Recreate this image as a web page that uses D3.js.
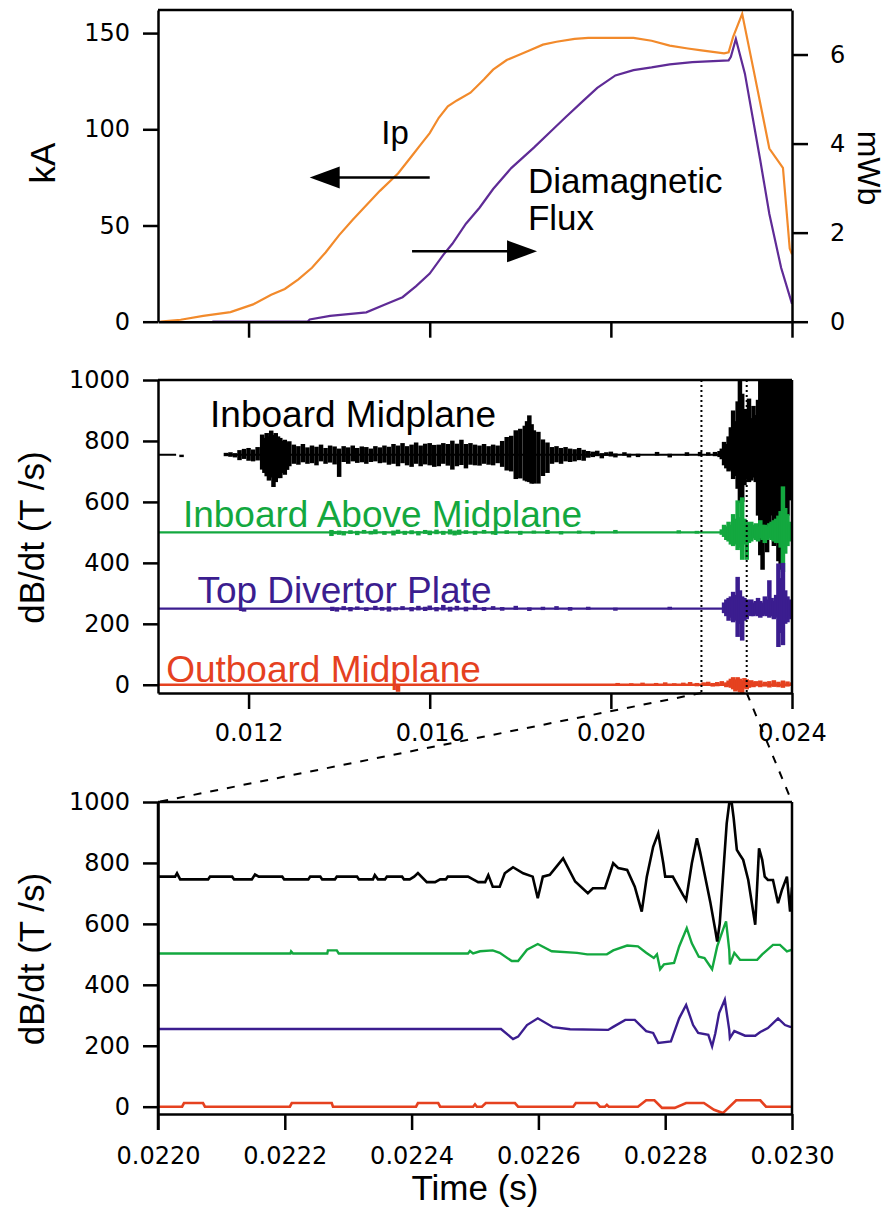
<!DOCTYPE html>
<html><head><meta charset="utf-8">
<script src="https://cdn.jsdelivr.net/npm/d3@7"></script>
<style>
body{margin:0;background:#fff;}
svg{display:block;font-family:"Liberation Sans",Arial,Helvetica,sans-serif;}
</style></head><body>
<svg id="c" width="888" height="1209"></svg>
<script>
// ---------- TOP PANEL DATA ----------
const ipTime = [0.01005,0.0105,0.0110,0.0116,0.0121,0.0125,0.0128,0.0131,0.0134,0.0137,0.0140,0.0143,0.0146,0.0149,0.0153,0.0156,0.0158,0.0160,0.0162,0.0164,0.0166,0.0169,0.0172,0.0174,0.0177,0.0179,0.0182,0.0185,0.0188,0.0192,0.0195,0.0200,0.0205,0.0209,0.0213,0.0217,0.0220,0.0225,0.0226,0.0227,0.0229,0.02315,0.0235,0.0238,0.02395,0.0240];
const ipKA   = [0,1,3,5,9,14,17,22,28,36,45,53,60.5,68,77,86,92,98,106,112,115,119,126,131,136,138,141,144,145.5,147,147.5,147.5,147.5,146,143.5,142,141,139.5,140,148,160,131,90,80,38,35];
const fluxTime = [0.0112,0.0133,0.01335,0.0138,0.0142,0.0146,0.0150,0.0154,0.0157,0.0160,0.0163,0.0165,0.0168,0.0171,0.0174,0.0178,0.0183,0.0187,0.0190,0.0194,0.0197,0.0201,0.0205,0.0209,0.0213,0.0218,0.0226,0.02265,0.02276,0.02296,0.0233,0.0235,0.02376,0.0240];
const fluxMWb  = [0,0,0.05,0.13,0.17,0.21,0.38,0.55,0.8,1.08,1.5,1.75,2.2,2.56,2.98,3.45,3.91,4.3,4.59,4.97,5.25,5.53,5.65,5.71,5.78,5.83,5.87,5.95,6.35,5.57,3.62,2.42,1.21,0.40];
const topXTicks = [0.012,0.016,0.020,0.024];
const kATicks = [0,50,100,150];
const mWbTicks = [0,2,4,6];

// ---------- MIDDLE PANEL DATA (envelopes: [time, up, down] relative to trace offset) ----------
const midTicks = [0,200,400,600,800,1000];
const midXTicks = [0.012,0.016,0.020,0.024];
const inboardOffset = 755, aboveOffset = 500, divertorOffset = 250, outboardOffset = 0;
const inboardSpans = [[0.0100,0.01040],[0.0115,0.0240]];
const fullSpan = [[0.0100,0.0240]];
const inboardNoise = [[0.01052,0,8],
[0.01150,6,5],[0.01160,8,7],[0.01170,5,9],[0.01180,15,18],[0.01190,19,14],[0.01200,22,20],[0.01210,17,22],[0.01220,25,19],[0.01230,66,49],[0.01235,55,60],[0.01240,71,71],[0.01245,60,85],[0.01250,79,75],[0.01255,65,106],[0.01260,71,90],[0.01265,60,77],[0.01270,55,77],[0.01275,45,60],[0.01280,49,66],[0.01285,40,50],[0.01290,44,38],[0.01300,33,30],[0.01310,28,33],[0.01320,35,25],[0.01330,24,30],[0.01340,30,28],[0.01350,26,35],[0.01360,33,22],[0.01370,22,30],[0.01380,30,26],[0.01390,27,32],[0.01400,20,73],[0.01410,28,24],[0.01420,24,30],[0.01430,30,22],[0.01440,22,27],[0.01450,27,25],[0.01460,25,30],[0.01470,20,24],[0.01480,28,22],[0.01490,24,28],[0.01500,30,26],[0.01510,26,33],[0.01520,35,30],[0.01530,30,38],[0.01540,38,28],[0.01550,28,35],[0.01560,33,40],[0.01570,40,30],[0.01580,30,38],[0.01590,36,32],[0.01600,38,35],[0.01610,32,40],[0.01620,33,38],[0.01630,38,30],[0.01640,35,36],[0.01650,46,49],[0.01660,36,38],[0.01670,49,34],[0.01680,35,45],[0.01690,38,33],[0.01700,33,35],[0.01710,30,36],[0.01720,35,30],[0.01730,28,33],[0.01740,33,35],[0.01750,30,28],[0.01760,45,40],[0.01770,58,52],[0.01780,62,55],[0.01790,80,80],[0.01800,85,78],[0.01810,95,85],[0.01815,110,88],[0.01820,129,90],[0.01825,100,95],[0.01830,80,95],[0.01840,75,95],[0.01850,50,70],[0.01860,40,60],[0.01870,25,30],[0.01880,28,25],[0.01890,22,30],[0.01900,25,22],[0.01910,20,24],[0.01920,18,22],[0.01930,22,18],[0.01940,16,20],[0.01950,12,10],[0.01960,10,8],[0.01970,13,5],[0.01980,5,12],[0.01990,8,4],[0.02000,10,6],[0.02010,4,9],[0.02030,8,3],[0.02040,3,9],[0.02060,3,8],[0.02102,9,3],[0.02130,3,9],[0.02168,8,4],[0.02197,9,5],[0.02215,8,3],[0.02230,9,5],[0.02240,12,8],
[0.02245,20,15],[0.02250,42,35],[0.02255,35,45],[0.02260,60,55],[0.02265,90,50],[0.02270,145,80],[0.02275,110,70],[0.02280,175,112],[0.02285,245,158],[0.02290,200,155],[0.02295,150,100],[0.02300,150,82],[0.02305,184,90],[0.02310,120,85],[0.02315,160,75],[0.02320,130,90],[0.02325,180,200],[0.02330,245,330],[0.02335,245,378],[0.02340,245,260],[0.02345,245,320],[0.02350,245,250],[0.02355,245,200],[0.02360,245,300],[0.02365,245,237],[0.02370,245,350],[0.02375,245,378],[0.02380,245,300],[0.02385,245,280],[0.02390,245,200],[0.02395,245,150],[0.02400,245,100]];
const aboveNoise = [[0.01383,8,12],[0.01390,4,6],[0.01400,6,8],[0.01410,4,10],[0.01425,7,5],[0.01440,5,9],[0.01455,8,4],[0.01470,5,7],[0.01480,10,6],[0.01500,4,8],[0.01520,6,10],[0.01530,9,5],[0.01545,5,8],[0.01560,7,6],[0.01575,4,10],[0.01590,8,5],[0.01600,6,9],[0.01615,9,6],[0.01630,5,8],[0.01645,10,7],[0.01655,6,10],[0.01665,9,8],[0.01680,7,5],[0.01700,5,8],[0.01720,8,4],[0.01740,4,7],[0.01770,7,5],[0.01800,5,8],[0.01830,6,4],[0.01860,8,5],[0.01890,4,7],[0.01930,6,4],[0.01960,5,6],[0.02010,8,3],[0.02150,7,3],[0.02190,5,4],
[0.02245,10,8],[0.02250,25,15],[0.02255,20,25],[0.02260,35,30],[0.02265,25,40],[0.02270,60,45],[0.02275,45,40],[0.02280,105,58],[0.02285,50,50],[0.02290,115,90],[0.02295,45,40],[0.02300,35,90],[0.02305,30,35],[0.02310,35,30],[0.02315,25,20],[0.02320,30,25],[0.02325,20,30],[0.02330,40,20],[0.02335,25,25],[0.02340,25,35],[0.02345,20,25],[0.02350,30,20],[0.02355,35,25],[0.02360,40,30],[0.02365,45,35],[0.02370,55,35],[0.02375,70,50],[0.02380,151,130],[0.02385,80,70],[0.02390,60,45],[0.02395,35,30],[0.02400,25,20]];
const divertorNoise = [[0.01190,2,10],[0.01385,6,8],[0.01395,4,10],[0.01410,8,5],[0.01425,5,9],[0.01440,7,4],[0.01460,4,8],[0.01480,9,5],[0.01495,5,7],[0.01510,7,10],[0.01525,4,6],[0.01540,8,5],[0.01560,5,9],[0.01575,9,6],[0.01590,6,8],[0.01600,10,5],[0.01615,5,9],[0.01630,12,6],[0.01645,6,10],[0.01660,9,6],[0.01680,6,9],[0.01700,12,5],[0.01720,5,8],[0.01740,8,4],[0.01760,5,7],[0.01790,9,4],[0.01820,4,8],[0.01850,6,5],[0.01880,8,4],[0.01910,5,7],[0.01950,6,4],[0.02010,3,7],[0.02130,6,3],
[0.02250,20,15],[0.02255,30,25],[0.02260,35,40],[0.02265,40,30],[0.02270,55,45],[0.02275,45,40],[0.02280,104,93],[0.02285,60,50],[0.02290,40,105],[0.02295,35,40],[0.02300,30,35],[0.02305,25,20],[0.02310,30,25],[0.02315,20,25],[0.02320,25,20],[0.02325,35,25],[0.02330,25,30],[0.02335,20,25],[0.02340,40,20],[0.02345,30,25],[0.02350,93,30],[0.02355,35,25],[0.02360,25,35],[0.02365,45,30],[0.02370,148,126],[0.02375,100,80],[0.02380,150,120],[0.02385,60,50],[0.02390,40,45],[0.02395,30,35],[0.02400,25,25]];
const outboardNoise = [[0.01530,2,23],[0.02015,6,2],[0.02045,5,3],[0.02070,7,2],[0.02100,6,3],[0.02120,8,2],[0.02140,5,4],[0.02160,7,3],[0.02175,9,2],[0.02190,6,5],[0.02205,8,3],[0.02215,10,4],[0.02225,6,6],[0.02235,9,5],[0.02245,12,4],[0.02255,8,8],[0.02260,14,6],[0.02265,20,10],[0.02270,25,15],[0.02275,18,22],[0.02280,25,18],[0.02285,20,25],[0.02290,15,27],[0.02295,22,12],[0.02300,18,15],[0.02305,12,10],[0.02310,15,6],[0.02315,10,8],[0.02320,12,5],[0.02330,14,8],[0.02340,10,6],[0.02350,12,9],[0.02360,15,7],[0.02370,10,8],[0.02380,14,10],[0.02390,11,6],[0.02400,8,4]];
const seriesNames = ["Inboard Midplane","Inboard Above Midplane","Top Divertor Plate","Outboard Midplane"];
const labelAnchors = [[0.01115,846],[0.01055,518],[0.01087,268],[0.01018,10]]; // [time, value] text start/baseline
const zoomWindow = [0.022,0.023];

// ---------- BOTTOM PANEL DATA ([time, dB/dt]) ----------
const zoomXTicks = [0.0220,0.0222,0.0224,0.0226,0.0228,0.0230];
const zoomInboard = [[0.022000,755],[0.022027,755],[0.022030,766],[0.022035,746],[0.022079,746],[0.022082,755],[0.022117,755],[0.022120,746],[0.022148,746],[0.022153,762],[0.022159,755],[0.022196,755],[0.022199,746],[0.022237,746],[0.022240,755],[0.022256,755],[0.022259,746],[0.022279,746],[0.022282,755],[0.022314,755],[0.022317,746],[0.022339,746],[0.022342,760],[0.022347,746],[0.022358,746],[0.022361,755],[0.022385,755],[0.022388,746],[0.022397,746],[0.022404,755],[0.022410,767],[0.022424,737],[0.022437,737],[0.022445,746],[0.022454,746],[0.022457,755],[0.022489,755],[0.022497,746],[0.022505,737],[0.022516,737],[0.022521,760],[0.022528,722],[0.022539,722],[0.022547,766],[0.022560,786],[0.022576,766],[0.022591,755],[0.022599,684],[0.022607,755],[0.022618,761],[0.022639,815],[0.022658,739],[0.022678,701],[0.022686,717],[0.022705,717],[0.022718,799],[0.022726,783],[0.022740,777],[0.022752,722],[0.022763,640],[0.022771,755],[0.022781,853],[0.022789,897],[0.022797,799],[0.022800,755],[0.022812,755],[0.022828,695],[0.022833,678],[0.022842,799],[0.022850,881],[0.022855,837],[0.022871,673],[0.022879,580],[0.022882,542],[0.022886,601],[0.022897,930],[0.022901,996],[0.022905,996],[0.022908,947],[0.022913,843],[0.022918,826],[0.022923,810],[0.022931,744],[0.022942,597],[0.022948,848],[0.022953,810],[0.022957,755],[0.022962,744],[0.022970,744],[0.022978,668],[0.022984,711],[0.022992,755],[0.022997,640],[0.023000,720]];
const zoomAbove = [[0.022000,503],[0.022209,503],[0.022210,510],[0.022213,503],[0.022267,503],[0.022268,513],[0.022282,513],[0.022285,503],[0.022489,503],[0.022492,511],[0.022497,503],[0.022508,510],[0.022528,513],[0.022539,505],[0.022558,478],[0.022568,478],[0.022582,515],[0.022599,534],[0.022621,510],[0.022661,505],[0.022677,500],[0.022708,500],[0.022718,513],[0.022740,529],[0.022757,526],[0.022770,505],[0.022782,488],[0.022787,500],[0.022792,451],[0.022798,467],[0.022814,472],[0.022822,526],[0.022834,586],[0.022842,536],[0.022853,492],[0.022862,488],[0.022874,451],[0.022882,526],[0.022893,592],[0.022896,608],[0.022901,515],[0.022902,467],[0.022909,505],[0.022918,482],[0.022945,482],[0.022953,500],[0.022970,531],[0.022981,531],[0.022992,510],[0.023000,515]];
const zoomDivertor = [[0.022000,255],[0.022541,255],[0.022560,222],[0.022568,230],[0.022582,268],[0.022599,290],[0.022623,261],[0.022650,254],[0.022710,252],[0.022718,262],[0.022737,285],[0.022752,285],[0.022770,248],[0.022781,242],[0.022789,209],[0.022809,214],[0.022822,290],[0.022833,334],[0.022844,268],[0.022852,242],[0.022868,236],[0.022874,198],[0.022879,240],[0.022885,307],[0.022894,351],[0.022901,252],[0.022902,225],[0.022909,248],[0.022926,233],[0.022942,233],[0.022950,245],[0.022962,258],[0.022978,290],[0.022989,268],[0.022997,262],[0.023000,262]];
const zoomOutboard = [[0.022000,0],[0.022038,0],[0.022041,12],[0.022071,12],[0.022074,0],[0.022208,0],[0.022211,12],[0.022274,12],[0.022276,0],[0.022407,0],[0.022410,12],[0.022442,12],[0.022445,0],[0.022497,0],[0.022500,8],[0.022503,0],[0.022511,0],[0.022517,12],[0.022563,12],[0.022568,0],[0.022655,0],[0.022659,12],[0.022692,12],[0.022697,0],[0.022705,0],[0.022708,6],[0.022711,0],[0.022757,0],[0.022770,21],[0.022783,21],[0.022795,-4],[0.022815,-4],[0.022833,12],[0.022861,12],[0.022877,-10],[0.022891,-21],[0.022912,21],[0.022950,21],[0.022959,0],[0.023000,0]];

// ---------- COLOURS ----------
const cIp = "#f28a2b", cFlux = "#5f2b96";
const cInboard = "#000000", cAbove = "#13a83f", cDivertor = "#3b1d8f", cOutboard = "#e5411f";

// ---------- SCALES ----------
const svg = d3.select("#c");
const xTop = d3.scaleLinear([0.010,0.024],[158,792]);
const yL = d3.scaleLinear([0,162],[321.7,10]);
const yR = d3.scaleLinear([0,7],[321.7,10]);
const yM = d3.scaleLinear([-27,1000],[693,380]);
const xB = d3.scaleLinear([0.022,0.023],[158,792]);
const yB = d3.scaleLinear([-24,1000],[1114,802]);
const fmtInt = d3.format("d");

function styleAxis(g){
  g.attr("font-family",null).attr("font-size",null);
  g.selectAll("path,line").attr("stroke","#000").attr("stroke-width",2.5);
  g.selectAll("text").attr("font-family","'DejaVu Sans',Verdana,sans-serif").attr("font-size",24).attr("fill","#000");
}
function hline(x1,x2,y){ svg.append("line").attr("x1",x1).attr("x2",x2).attr("y1",y).attr("y2",y).attr("stroke","#000").attr("stroke-width",2.5); }
function vline(x,y1,y2){ svg.append("line").attr("x1",x).attr("x2",x).attr("y1",y1).attr("y2",y2).attr("stroke","#000").attr("stroke-width",2.5); }

// clip paths
const defs = svg.append("defs");
defs.append("clipPath").attr("id","clipTop").append("rect").attr("x",158).attr("y",yL.range()[1]-2).attr("width",634).attr("height",yL.range()[0]-yL.range()[1]+4);
defs.append("clipPath").attr("id","clipMid").append("rect").attr("x",158).attr("y",yM(1000)).attr("width",634).attr("height",yM(-27)-yM(1000));
defs.append("clipPath").attr("id","clipBot").append("rect").attr("x",158).attr("y",yB(1000)).attr("width",634).attr("height",yB(-24)-yB(1000));

// ================= TOP PANEL =================
const gTop = svg.append("g").attr("clip-path","url(#clipTop)");
const lineTop = (xs,ys,yS)=> d3.line().x((d,i)=>xTop(xs[i])).y((d,i)=>yS(ys[i]))(xs);
gTop.append("path").attr("d",lineTop(fluxTime,fluxMWb,yR)).attr("fill","none").attr("stroke",cFlux).attr("stroke-width",2.2);
gTop.append("path").attr("d",lineTop(ipTime,ipKA,yL)).attr("fill","none").attr("stroke",cIp).attr("stroke-width",2.2);

svg.append("g").attr("transform","translate(158,0)").call(d3.axisLeft(yL).tickValues(kATicks).tickSize(15).tickSizeOuter(0).tickPadding(13).tickFormat(fmtInt)).call(styleAxis);
svg.append("g").attr("transform","translate(792,0)").call(d3.axisRight(yR).tickValues(mWbTicks).tickSize(16).tickSizeOuter(0).tickPadding(22).tickFormat(fmtInt)).call(styleAxis);
svg.append("g").attr("transform",`translate(0,${yL(0)})`).call(d3.axisBottom(xTop).tickValues(topXTicks).tickSize(16).tickSizeOuter(0).tickFormat("")).call(styleAxis);
hline(158,792,yL.range()[1]);

// arrows
function arrow(x1,x2,y,dir){
  svg.append("line").attr("x1",x1).attr("x2",x2 - dir*26).attr("y1",y).attr("y2",y).attr("stroke","#000").attr("stroke-width",2.5);
  svg.append("path").attr("d",`M${x2},${y}L${x2-dir*30},${y-11}L${x2-dir*30},${y+11}Z`).attr("fill","#000");
}
arrow(xTop(0.0160), xTop(0.01335), yL(75), -1);
arrow(xTop(0.01561), xTop(0.01837), yR(1.58), 1);
svg.append("text").attr("x",xTop(0.01493)).attr("y",yL(92.5)).attr("font-size",33).text("Ip");
svg.append("text").attr("x",xTop(0.01817)).attr("y",yL(67)).attr("font-size",35).text("Diamagnetic");
svg.append("text").attr("x",xTop(0.01817)).attr("y",yL(47.5)).attr("font-size",35).text("Flux");

svg.append("text").attr("transform","translate(55,163) rotate(-90)").attr("text-anchor","middle").attr("font-size",35).text("kA");
svg.append("text").attr("transform","translate(858,168) rotate(90)").attr("text-anchor","middle").attr("font-size",32).text("mWb");

// ================= MIDDLE PANEL =================
const gMid = svg.append("g").attr("clip-path","url(#clipMid)");
function drawTrace(offset, spans, noise, color, w){
  const g = gMid.append("g");
  g.append("path").attr("d", spans.map(s=>`M${xTop(s[0])},${yM(offset)}H${xTop(s[1])}`).join(""))
    .attr("stroke",color).attr("stroke-width",w).attr("fill","none");
  g.selectAll("line").data(noise).join("line")
    .attr("x1",d=>xTop(d[0])).attr("x2",d=>xTop(d[0]))
    .attr("y1",d=>yM(offset+d[1])).attr("y2",d=>yM(offset-d[2]))
    .attr("stroke",color).attr("stroke-width",4.5);
}
drawTrace(inboardOffset, inboardSpans, inboardNoise, cInboard, 2);
drawTrace(aboveOffset, fullSpan, aboveNoise, cAbove, 2.4);
drawTrace(divertorOffset, fullSpan, divertorNoise, cDivertor, 2.4);
drawTrace(outboardOffset, fullSpan, outboardNoise, cOutboard, 2.6);

// dotted window markers
zoomWindow.forEach(t=>{
  svg.append("line").attr("x1",xTop(t)).attr("x2",xTop(t)).attr("y1",yM(1000)).attr("y2",yM(-27))
    .attr("stroke","#000").attr("stroke-width",2).attr("stroke-dasharray","2,3");
});

svg.append("g").attr("transform","translate(158,0)").call(d3.axisLeft(yM).tickValues(midTicks).tickSize(15).tickSizeOuter(0).tickPadding(13).tickFormat(fmtInt)).call(styleAxis);
svg.append("g").attr("transform",`translate(0,${yM(-27)})`).call(d3.axisBottom(xTop).tickValues(midXTicks).tickSize(16).tickSizeOuter(0).tickPadding(15).tickFormat(d3.format(".3f"))).call(styleAxis);
hline(158,792,yM(1000));
vline(792,yM(1000),yM(-27));

// series labels
const labelColors = [cInboard,cAbove,cDivertor,cOutboard];
seriesNames.forEach((n,i)=>{
  svg.append("text").attr("x",xTop(labelAnchors[i][0])).attr("y",yM(labelAnchors[i][1]))
    .attr("font-size",37).attr("fill",labelColors[i]).text(n);
});
svg.append("text").attr("transform",`translate(44,${(yM(1000)+yM(-27))/2+1}) rotate(-90)`).attr("text-anchor","middle").attr("font-size",35).text("dB/dt (T /s)");

// dashed zoom connectors
svg.append("line").attr("x1",xTop(zoomWindow[0])).attr("y1",yM(-27)).attr("x2",xB(zoomWindow[0])).attr("y2",yB(1000))
  .attr("stroke","#000").attr("stroke-width",2).attr("stroke-dasharray","8,9");
svg.append("line").attr("x1",xTop(zoomWindow[1])).attr("y1",yM(-27)).attr("x2",xB(zoomWindow[1])).attr("y2",yB(1000))
  .attr("stroke","#000").attr("stroke-width",2).attr("stroke-dasharray","8,9");

// ================= BOTTOM PANEL =================
const gBot = svg.append("g").attr("clip-path","url(#clipBot)");
const lineB = d3.line().x(d=>xB(d[0])).y(d=>yB(d[1]));
[[zoomOutboard,cOutboard,2.6],[zoomDivertor,cDivertor,2.4],[zoomAbove,cAbove,2.4],[zoomInboard,cInboard,2.6]].forEach(([data,col,w])=>{
  gBot.append("path").attr("d",lineB(data)).attr("fill","none").attr("stroke",col).attr("stroke-width",w).attr("stroke-linejoin","miter");
});
svg.append("g").attr("transform","translate(158,0)").call(d3.axisLeft(yB).tickValues(midTicks).tickSize(15).tickSizeOuter(0).tickPadding(13).tickFormat(fmtInt)).call(styleAxis);
svg.append("g").attr("transform",`translate(0,${yB(-24)})`).call(d3.axisBottom(xB).tickValues(zoomXTicks).tickSize(16).tickSizeOuter(0).tickPadding(17).tickFormat(d3.format(".4f"))).call(styleAxis);
hline(158,792,yB(1000));
vline(792,yB(1000),yB(-24));
vline(158,yB(1000),yB(-24)+16);
svg.append("text").attr("transform",`translate(44,${(yB(1000)+yB(-24))/2+1}) rotate(-90)`).attr("text-anchor","middle").attr("font-size",35).text("dB/dt (T /s)");
svg.append("text").attr("x",(xB.range()[0]+xB.range()[1])/2).attr("y",1200).attr("text-anchor","middle").attr("font-size",35).text("Time (s)");
</script>
</body></html>
